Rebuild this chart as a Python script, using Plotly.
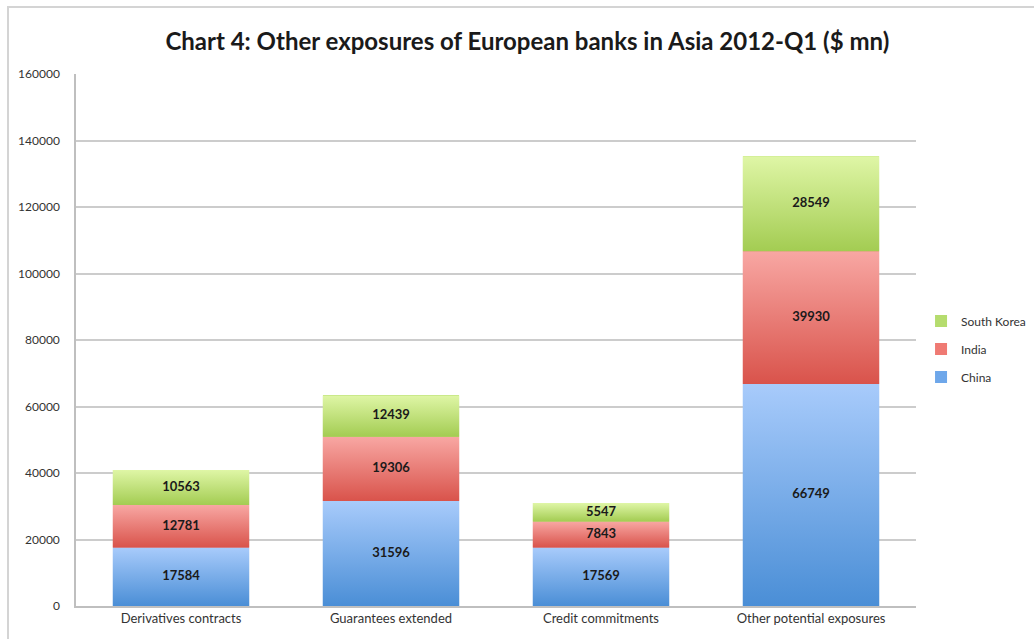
import plotly.graph_objects as go

# Exposure categories and per-country values ($ mn)
categories = ["Derivatives contracts", "Guarantees extended", "Credit commitments", "Other potential exposures"]
china = [17584, 31596, 17569, 66749]
india = [12781, 19306, 7843, 39930]
south_korea = [10563, 12439, 5547, 28549]
y_ticks = [0, 20000, 40000, 60000, 80000, 100000, 120000, 140000, 160000]

FONT = "Lato"
BAR_W = 0.65

# name, values, gradient bottom, gradient top, flat colour for legend, legend rank
series = [
    ("China", china, "#4a8ed6", "#a8cbfb", "#6ea7ea", 3),
    ("India", india, "#d9534b", "#f8a7a3", "#ef7a73", 2),
    ("South Korea", south_korea, "#a3cc52", "#dff6a6", "#b5dc6e", 1),
]

x_idx = list(range(len(categories)))
fig = go.Figure()

# stacked bars (legend + base fill)
bases = [0] * len(categories)
segments = []
for name, vals, c_bot, c_top, c_flat, rank in series:
    fig.add_trace(go.Bar(
        x=x_idx, y=vals, name=name, width=BAR_W,
        legendgroup=name, legendrank=rank,
        marker=dict(color=c_flat, line=dict(width=0)),
        hovertemplate=name + ": %{y}<extra></extra>",
    ))
    for i, v in enumerate(vals):
        segments.append((i, bases[i], v, c_bot, c_top))
    bases = [b + v for b, v in zip(bases, vals)]

# vertical gradient over each stacked segment
for i, b, v, c_bot, c_top in segments:
    x0, x1 = i - BAR_W / 2, i + BAR_W / 2
    fig.add_trace(go.Scatter(
        x=[x0, x1, x1, x0, x0], y=[b, b, b + v, b + v, b],
        mode="lines", line=dict(width=0), fill="toself",
        fillgradient=dict(type="vertical", colorscale=[[0, c_bot], [1, c_top]]),
        showlegend=False, hoverinfo="skip",
    ))

# value labels centred in each segment
fig.add_trace(go.Scatter(
    x=[s[0] for s in segments],
    y=[s[1] + s[2] / 2 for s in segments],
    text=[f"<b>{s[2]}</b>" for s in segments],
    mode="text", textfont=dict(family=FONT, size=13, color="#1a1a1a"),
    showlegend=False, hoverinfo="skip",
))

fig.update_layout(
    width=1034, height=639,
    margin=dict(l=76, r=118, t=74, b=33, autoexpand=False),
    paper_bgcolor="white", plot_bgcolor="white",
    barmode="stack",
    title=dict(
        text="<b>Chart 4: Other exposures of European banks in Asia 2012-Q1 ($ mn)</b>",
        x=0.51, xanchor="center", y=1 - 42 / 639, yanchor="middle", yref="container",
        font=dict(family=FONT, size=24, color="#1a1a1a"),
    ),
    legend=dict(
        x=1.006, xanchor="left", y=0.483, yanchor="middle",
        traceorder="grouped", tracegroupgap=9,
        font=dict(family=FONT, size=12, color="#333333"),
        itemwidth=30, bgcolor="rgba(0,0,0,0)",
    ),
    shapes=[dict(
        type="rect", xref="paper", yref="paper",
        x0=(8 - 76) / 840, x1=(1045 - 76) / 840,
        y0=(606 - 650) / 532, y1=(606 - 7) / 532,
        line=dict(color="#d4d4d4", width=2), fillcolor="rgba(0,0,0,0)", layer="below",
    )],
)

fig.update_xaxes(
    range=[-0.5, 3.5], tickvals=x_idx, ticktext=categories,
    showgrid=False, zeroline=False,
    showline=True, linecolor="#bfbfbf", linewidth=1.5,
    ticks="", tickfont=dict(family=FONT, size=13, color="#333333"),
)
fig.update_yaxes(
    range=[0, 160000], tickvals=y_ticks, ticktext=[str(t) for t in y_ticks],
    showgrid=True, gridcolor="#cccccc", gridwidth=1.5,
    zeroline=False, showline=True, linecolor="#bfbfbf", linewidth=1.5,
    ticks="", ticklabelstandoff=12,
    tickfont=dict(family=FONT, size=12, color="#333333"),
)

fig.write_html("out.html")
